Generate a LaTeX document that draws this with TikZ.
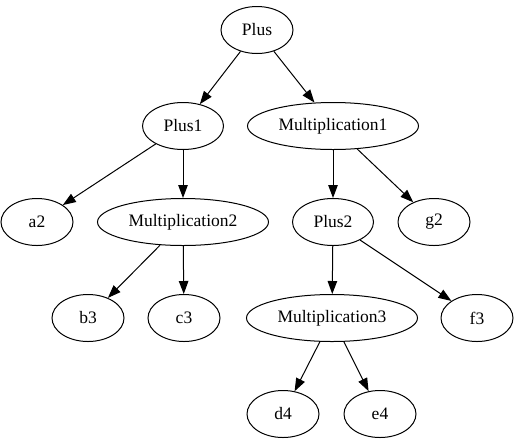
\documentclass[tikz,border=0pt]{standalone}
\usepackage{fontspec}
\setmainfont{Liberation Serif}
\usetikzlibrary{shapes.geometric,arrows.meta}
\begin{document}
\begin{tikzpicture}[x=1pt,y=-1pt,
  nd/.style={draw,ellipse,line width=1pt,inner sep=0pt,minimum height=47pt,minimum width=72pt,font=\fontsize{17.5}{20}\selectfont},
  mid/.style={nd,minimum width=81pt},
  wide/.style={nd,minimum width=171pt},
  edge/.style={line width=1pt,-{Triangle[length=13pt,width=9.5pt]}}]
\useasboundingbox (0,0) rectangle (518,440);
\node[nd] (plus) at (257,30) {Plus};
\node[mid] (plus1) at (183,126) {Plus1};
\node[wide] (mul1) at (333,126) {Multiplication1};
\node[nd] (a2) at (37,222) {a2};
\node[wide] (mul2) at (183,222) {Multiplication2};
\node[mid] (plus2) at (333,222) {Plus2};
\node[nd] (g2) at (434,222) {g2};
\node[nd] (b3) at (88,318) {b3};
\node[nd] (c3) at (184,318) {c3};
\node[wide] (mul3) at (332,318) {Multiplication3};
\node[nd] (f3) at (477,318) {f3};
\node[nd] (d4) at (283,414) {d4};
\node[nd] (e4) at (380,414) {e4};
\draw[edge] (plus) -- (plus1);
\draw[edge] (plus) -- (mul1);
\draw[edge] (plus1) -- (a2);
\draw[edge] (plus1) -- (mul2);
\draw[edge] (mul1) -- (plus2);
\draw[edge] (mul1) -- (g2);
\draw[edge] (mul2) -- (b3);
\draw[edge] (mul2) -- (c3);
\draw[edge] (plus2) -- (mul3);
\draw[edge] (plus2) -- (f3);
\draw[edge] (mul3) -- (d4);
\draw[edge] (mul3) -- (e4);
\end{tikzpicture}
\end{document}
